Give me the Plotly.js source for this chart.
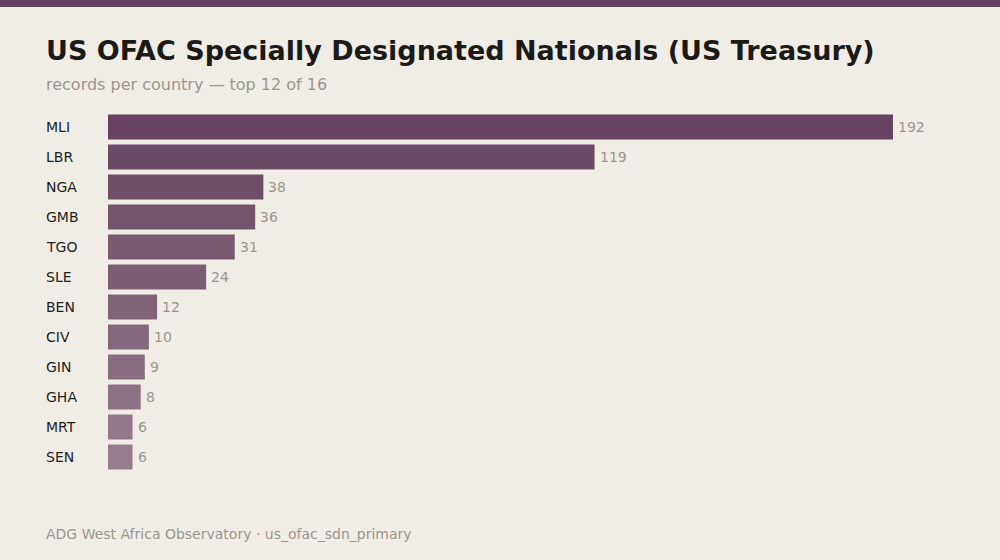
<!DOCTYPE html>
<html>
<head>
<meta charset="utf-8">
<script src="https://cdn.plot.ly/plotly-3.0.1.min.js"></script>
<style>
  html, body { margin: 0; padding: 0; background: #f0ede7; }
  #chart { width: 1000px; height: 560px; }
</style>
</head>
<body>
<div id="chart"></div>
<script>
const countries = ["MLI", "LBR", "NGA", "GMB", "TGO", "SLE", "BEN", "CIV", "GIN", "GHA", "MRT", "SEN"];
const records = [192, 119, 38, 36, 31, 24, 12, 10, 9, 8, 6, 6];

const W = 1000;
const H = 560;
const margin = { l: 108, r: 60, t: 112, b: 88 };
const plotW = W - margin.l - margin.r;
const plotH = H - margin.t - margin.b;

// pixel -> paper coordinates, for things drawn outside the plot area
const px = (x) => (x - margin.l) / plotW;
const py = (y) => (H - margin.b - y) / plotH;

const barColors = countries.map((_, i) => {
  const a = 1 - (i / (countries.length - 1)) * 0.34;
  return `rgba(103,67,95,${a.toFixed(3)})`;
});

const trace = {
  type: "bar",
  orientation: "h",
  x: records,
  y: countries,
  marker: { color: barColors, line: { width: 0 } },
  hoverinfo: "none",
};

const labelAnnotations = countries.map((c) => ({
  xref: "paper",
  yref: "y",
  x: px(44),
  y: c,
  text: c,
  showarrow: false,
  xanchor: "left",
  yanchor: "middle",
  font: { family: "DejaVu Sans", size: 14, color: "#221e1a" },
}));

const valueAnnotations = records.map((v, i) => ({
  xref: "x",
  yref: "y",
  x: v,
  y: countries[i],
  xshift: 3,
  text: String(v),
  showarrow: false,
  xanchor: "left",
  yanchor: "middle",
  font: { family: "DejaVu Sans", size: 14, color: "#9b968d" },
}));

const layout = {
  width: W,
  height: H,
  margin: margin,
  paper_bgcolor: "#f0ede7",
  plot_bgcolor: "#f0ede7",
  showlegend: false,
  bargap: 0.167,
  font: { family: "DejaVu Sans" },
  title: {
    text: "<b>US OFAC Specially Designated Nationals (US Treasury)</b>",
    xref: "container",
    yref: "container",
    x: 0.046,
    xanchor: "left",
    y: 1 - 51 / H,
    yanchor: "middle",
    font: { family: "DejaVu Sans", size: 27, color: "#1c1a17" },
  },
  xaxis: {
    range: [0, 192 * plotW / 785],
    visible: false,
    fixedrange: true,
  },
  yaxis: {
    autorange: "reversed",
    showticklabels: false,
    showgrid: false,
    zeroline: false,
    showline: false,
    ticks: "",
    fixedrange: true,
  },
  shapes: [
    {
      type: "rect",
      xref: "paper",
      yref: "paper",
      x0: px(0),
      x1: px(W),
      y0: py(7),
      y1: py(0),
      fillcolor: "#67435f",
      line: { width: 0 },
      layer: "above",
    },
  ],
  annotations: [
    {
      xref: "paper",
      yref: "paper",
      x: px(44),
      y: py(84),
      text: "records per country — top 12 of 16",
      showarrow: false,
      xanchor: "left",
      yanchor: "middle",
      font: { family: "DejaVu Sans", size: 16, color: "#9b968d" },
    },
    {
      xref: "paper",
      yref: "paper",
      x: px(44),
      y: py(534),
      text: "ADG West Africa Observatory · us_ofac_sdn_primary",
      showarrow: false,
      xanchor: "left",
      yanchor: "middle",
      font: { family: "DejaVu Sans", size: 14, color: "#9b968d" },
    },
    ...labelAnnotations,
    ...valueAnnotations,
  ],
};

Plotly.newPlot("chart", [trace], layout, { displayModeBar: false, staticPlot: true });
</script>
</body>
</html>
